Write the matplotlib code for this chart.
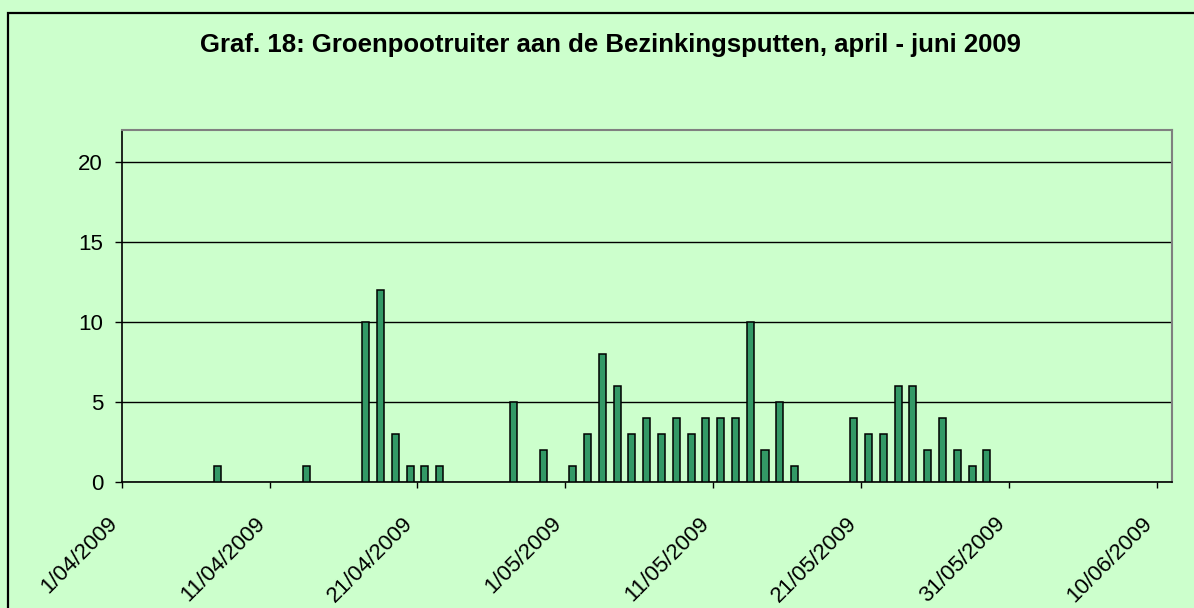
import matplotlib
matplotlib.use("Agg")
import matplotlib.pyplot as plt
import matplotlib.dates as mdates
from matplotlib.patches import Rectangle
import pandas as pd

title = "Graf. 18: Groenpootruiter aan de Bezinkingsputten, april - juni 2009"
dates = ["2009-04-07", "2009-04-13", "2009-04-17", "2009-04-18", "2009-04-19",
         "2009-04-20", "2009-04-21", "2009-04-22", "2009-04-27", "2009-04-29",
         "2009-05-01", "2009-05-02", "2009-05-03", "2009-05-04", "2009-05-05",
         "2009-05-06", "2009-05-07", "2009-05-08", "2009-05-09", "2009-05-10",
         "2009-05-11", "2009-05-12", "2009-05-13", "2009-05-14", "2009-05-15",
         "2009-05-16", "2009-05-20", "2009-05-21", "2009-05-22", "2009-05-23",
         "2009-05-24", "2009-05-25", "2009-05-26", "2009-05-27", "2009-05-28",
         "2009-05-29"]
counts = [1, 1, 10, 12, 3, 1, 1, 1, 5, 2,
          1, 3, 8, 6, 3, 4, 3, 4, 3, 4,
          4, 4, 10, 2, 5, 1, 4, 3, 3, 6,
          6, 2, 4, 2, 1, 2]
tick_dates = ["2009-04-01", "2009-04-11", "2009-04-21", "2009-05-01",
              "2009-05-11", "2009-05-21", "2009-05-31", "2009-06-10"]
tick_labels = ["1/04/2009", "11/04/2009", "21/04/2009", "1/05/2009",
               "11/05/2009", "21/05/2009", "31/05/2009", "10/06/2009"]
y_ticks = [0, 5, 10, 15, 20]
x_start = "2009-04-01"
x_end = "2009-06-11"

BG = "#CCFFCC"
BAR = "#339966"

plt.rcParams['font.family'] = ['Liberation Sans', 'DejaVu Sans']

W, H = 1194, 608
fig = plt.figure(figsize=(W / 100, H / 100), dpi=100, facecolor=BG)

# chart area border (top and left visible)
fig.patches.append(Rectangle((8 / W, -0.1), 1.2, (H - 13) / H + 0.1,
                             transform=fig.transFigure, fill=False,
                             edgecolor="black", linewidth=1.6, zorder=0))

ax = fig.add_axes([121.7 / W, 1 - 482 / H, (1171.7 - 121.7) / W, (482 - 130.3) / H])
ax.set_facecolor(BG)

xd = mdates.date2num(pd.to_datetime(dates)) + 0.5
ax.bar(xd, counts, width=0.48, color=BAR, edgecolor="black", linewidth=1.1, zorder=3)

ax.set_xlim(mdates.date2num(pd.Timestamp(x_start)), mdates.date2num(pd.Timestamp(x_end)))
ax.set_ylim(0, 22)
ax.set_yticks(y_ticks)
ax.set_yticklabels([str(v) for v in y_ticks], fontsize=16)
ax.set_xticks(mdates.date2num(pd.to_datetime(tick_dates)))
ax.set_xticklabels(tick_labels, fontsize=16, rotation=45, ha="right", va="top")

ax.tick_params(axis="y", length=5, width=1, pad=8.4, direction="out", color="black")
ax.tick_params(axis="x", length=4.5, width=1, pad=18, direction="out", color="black")

ax.grid(axis="y", color="black", linewidth=1.0, zorder=1)
ax.set_axisbelow(True)
for side in ["top", "right"]:
    ax.spines[side].set_color("#808080")
    ax.spines[side].set_linewidth(1.5)
for side in ["left", "bottom"]:
    ax.spines[side].set_color("black")
    ax.spines[side].set_linewidth(1.2)

fig.text(610 / W, 1 - 45 / H, title, fontsize=18.5, fontweight="bold",
         ha="center", va="center")

fig.savefig("out.png", dpi=100, facecolor=BG)
